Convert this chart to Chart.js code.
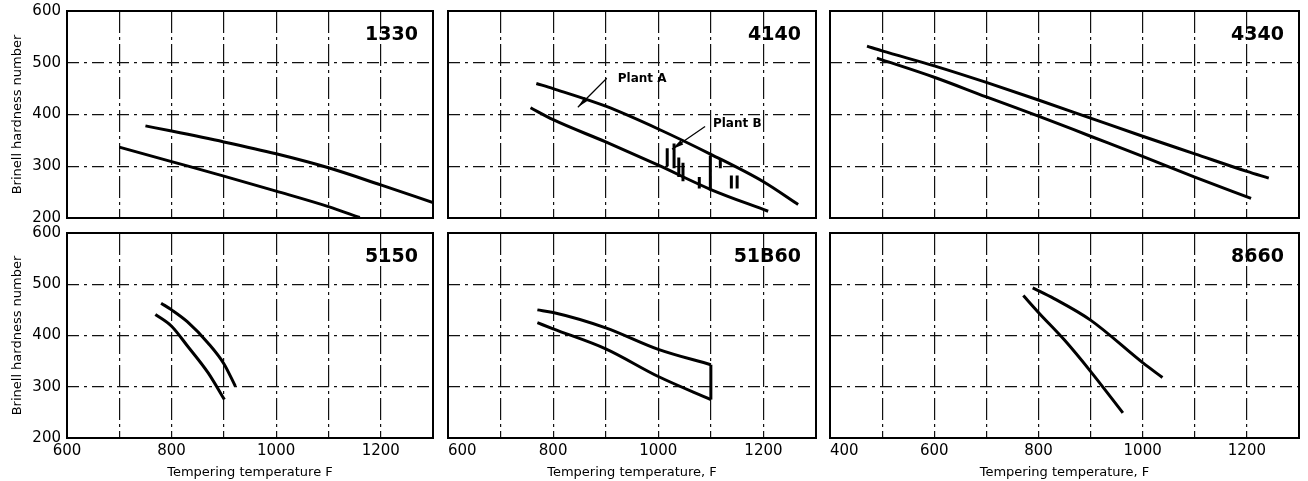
<!DOCTYPE html>
<html>
<head>
<meta charset="utf-8">
<script src="https://cdn.jsdelivr.net/npm/chart.js@4.4.0/dist/chart.umd.min.js"></script>
<style>
  html, body { margin: 0; padding: 0; background: #fff; }
  #wrap { position: relative; width: 1308px; height: 481px; overflow: hidden; background: #fff; }
  #wrap canvas { position: absolute; }
</style>
</head>
<body>
<div id="wrap"></div>
<script>
// axis ticks
const hardnessTicks = [200, 300, 400, 500, 600];
const tempLabels = [600, 800, 1000, 1200];
const tempLabelsWide = [400, 600, 800, 1000, 1200];

// curves: [tempering temperature F, Brinell hardness]
const s1330Upper = [[750, 378], [800, 368], [900, 347], [1000, 324], [1100, 297], [1200, 264], [1300, 230]];
const s1330Lower = [[700, 337], [800, 309], [900, 281], [1000, 252], [1100, 222], [1160, 201]];

const s4140Upper = [[768, 460], [800, 450], [900, 416], [1000, 372], [1100, 323], [1200, 270], [1266, 226]];
const s4140Lower = [[757, 413], [800, 390], [900, 347], [1000, 302], [1100, 255], [1209, 213]];
// Plant B readings: [temp, high, low]
const s4140PlantB = [[1017, 335, 300], [1030, 344, 296], [1039, 317, 279], [1047, 307, 271], [1078, 279, 257],
                     [1099, 321, 253], [1118, 315, 296], [1139, 282, 257], [1150, 282, 257]];

const s4340Upper = [[471, 532], [500, 523], [600, 494], [700, 462], [800, 428], [900, 393], [1000, 358], [1100, 324], [1200, 290], [1242, 277]];
const s4340Lower = [[490, 509], [600, 472], [700, 434], [800, 397], [900, 358], [1000, 319], [1100, 279], [1208, 238]];

const s5150Upper = [[780, 463], [800, 450], [830, 427], [870, 385], [900, 345], [922, 301]];
const s5150Lower = [[769, 441], [800, 418], [830, 380], [870, 327], [901, 275]];

const s51B60Upper = [[770, 450], [800, 445], [900, 415], [1000, 373], [1100, 343]];
const s51B60Lower = [[770, 425], [800, 413], [900, 374], [1000, 320], [1100, 275]];
const s51B60Edge = [[1100, 343], [1100, 275]];

const s8660Upper = [[789, 493], [830, 472], [900, 430], [1000, 347], [1038, 318]];
const s8660Lower = [[771, 478], [800, 445], [850, 391], [900, 330], [962, 249]];

// callouts on the 4140 panel: label anchor, leader start, arrow tip (data units)
const notes4140 = [
  { text: 'Plant A', at: [923, 468], from: [902, 470], to: [847, 414] },
  { text: 'Plant B', at: [1104, 381], from: [1089, 377], to: [1026, 333] }
];

const yTitle = 'Brinell hardness number';

Chart.defaults.font.family = "'DejaVu Sans', sans-serif";
Chart.defaults.color = '#000';

const pairs = arr => arr.map(p => ({ x: p[0], y: p[1] }));
const bars = arr => arr.flatMap(p => [{ x: p[0], y: p[1] }, { x: p[0], y: p[2] }, { x: p[0], y: null }]);

const panels = [
  { grade: '1330', row: 0, box: [67, 11, 433, 218], xMin: 600, yLabels: true, xLabels: null, xTitle: null,
    series: [s1330Upper, s1330Lower] },
  { grade: '4140', row: 0, box: [448, 11, 816, 218], xMin: 600, yLabels: false, xLabels: null, xTitle: null,
    series: [s4140Upper, s4140Lower], extra: bars(s4140PlantB), notes: notes4140 },
  { grade: '4340', row: 0, box: [830, 11, 1299, 218], xMin: 400, yLabels: false, xLabels: null, xTitle: null,
    series: [s4340Upper, s4340Lower] },
  { grade: '5150', row: 1, box: [67, 233, 433, 438], xMin: 600, yLabels: true, xLabels: tempLabels, xTitle: 'Tempering temperature F',
    series: [s5150Upper, s5150Lower], tickAlign: 'center' },
  { grade: '51B60', row: 1, box: [448, 233, 816, 438], xMin: 600, yLabels: false, xLabels: tempLabels, xTitle: 'Tempering temperature, F',
    series: [s51B60Upper, s51B60Lower, s51B60Edge], tickAlign: 'inner' },
  { grade: '8660', row: 1, box: [830, 233, 1299, 438], xMin: 400, yLabels: false, xLabels: tempLabelsWide, xTitle: 'Tempering temperature, F',
    series: [s8660Upper, s8660Lower], tickAlign: 'inner' }
];

const panelDecor = {
  id: 'panelDecor',
  afterDatasetsDraw(chart, args, opts) {
    const { ctx, chartArea: a, scales } = chart;
    ctx.save();
    ctx.strokeStyle = '#000';
    ctx.lineWidth = 2;
    ctx.strokeRect(a.left, a.top, a.right - a.left, a.bottom - a.top);

    ctx.fillStyle = '#000';
    ctx.font = "bold 19px 'DejaVu Sans'";
    ctx.textAlign = 'right';
    ctx.textBaseline = 'alphabetic';
    ctx.fillText(opts.grade, a.right - 15, a.top + 29);

    (opts.notes || []).forEach(n => {
      const tx = scales.x.getPixelForValue(n.at[0]), ty = scales.y.getPixelForValue(n.at[1]);
      const fx = scales.x.getPixelForValue(n.from[0]), fy = scales.y.getPixelForValue(n.from[1]);
      const lx = scales.x.getPixelForValue(n.to[0]), ly = scales.y.getPixelForValue(n.to[1]);
      ctx.font = "bold 12px 'DejaVu Sans'";
      ctx.textAlign = 'left';
      ctx.textBaseline = 'middle';
      ctx.fillText(n.text, tx, ty);
      ctx.lineWidth = 1.2;
      ctx.beginPath();
      ctx.moveTo(fx, fy);
      ctx.lineTo(lx, ly);
      ctx.stroke();
      const ang = Math.atan2(ly - fy, lx - fx);
      const len = 12, half = 2.5, c = Math.cos(ang), s = Math.sin(ang);
      ctx.beginPath();
      ctx.moveTo(lx, ly);
      ctx.lineTo(lx - len * c + half * s, ly - len * s - half * c);
      ctx.lineTo(lx - len * c - half * s, ly - len * s + half * c);
      ctx.closePath();
      ctx.fill();
    });
    ctx.restore();
  }
};

const wrap = document.getElementById('wrap');

panels.forEach(p => {
  const [left, top, right, bottom] = p.box;
  const yW = p.yLabels ? 67 : 0;
  const padL = p.yLabels ? 0 : 20;
  const padR = 6;
  const cTop = p.row === 0 ? 0 : 224;
  const cBottom = p.row === 0 ? 224 : 481;
  const xH = p.row === 0 ? 0 : 43;
  const padT = top - cTop;
  const padB = cBottom - bottom - xH;
  const cLeft = left - yW - padL;
  const cw = right + padR - cLeft;
  const ch = cBottom - cTop;

  const canvas = document.createElement('canvas');
  canvas.width = cw;
  canvas.height = ch;
  canvas.style.left = cLeft + 'px';
  canvas.style.top = cTop + 'px';
  canvas.style.width = cw + 'px';
  canvas.style.height = ch + 'px';
  wrap.appendChild(canvas);

  const datasets = p.series.map(s => ({
    data: pairs(s),
    borderColor: '#000',
    borderWidth: 3,
    cubicInterpolationMode: 'monotone',
    pointRadius: 0,
    showLine: true,
    fill: false
  }));
  if (p.extra) {
    datasets.push({
      data: p.extra,
      borderColor: '#000',
      borderWidth: 3,
      pointRadius: 0,
      showLine: true,
      spanGaps: false,
      fill: false
    });
  }

  new Chart(canvas, {
    type: 'scatter',
    data: { datasets },
    options: {
      responsive: false,
      animation: false,
      devicePixelRatio: 1,
      layout: { padding: { left: padL, right: padR, top: padT, bottom: padB } },
      plugins: {
        legend: { display: false },
        tooltip: { enabled: false },
        panelDecor: { grade: p.grade, notes: p.notes }
      },
      scales: {
        x: {
          type: 'linear',
          min: p.xMin,
          max: 1300,
          ticks: {
            display: !!p.xLabels,
            stepSize: 100,
            autoSkip: false,
            maxRotation: 0,
            padding: 4,
            align: p.tickAlign || 'center',
            font: { size: 15 },
            color: '#000',
            callback: v => (p.xLabels && p.xLabels.includes(v)) ? String(v) : ''
          },
          grid: { color: '#111', lineWidth: 1.2, drawTicks: false },
          border: { display: false, dash: [22, 4, 3, 4] },
          title: { display: !!p.xTitle, text: p.xTitle || '', font: { size: 13 }, color: '#000', padding: { top: 0, bottom: 1 } },
          afterFit: s => { s.height = xH; s.paddingLeft = 0; s.paddingRight = 0; }
        },
        y: {
          type: 'linear',
          min: hardnessTicks[0],
          max: hardnessTicks[hardnessTicks.length - 1],
          ticks: {
            display: p.yLabels,
            stepSize: 100,
            padding: 6,
            font: { size: 15 },
            color: '#000'
          },
          grid: { color: '#111', lineWidth: 1.2, drawTicks: false },
          border: { display: false, dash: [12, 5, 3, 5] },
          title: { display: p.yLabels, text: yTitle, font: { size: 13 }, color: '#000', padding: { top: 10, bottom: 0 } },
          afterFit: s => { s.width = yW; s.paddingTop = 0; s.paddingBottom = 0; }
        }
      }
    },
    plugins: [panelDecor]
  });
});
</script>
</body>
</html>
